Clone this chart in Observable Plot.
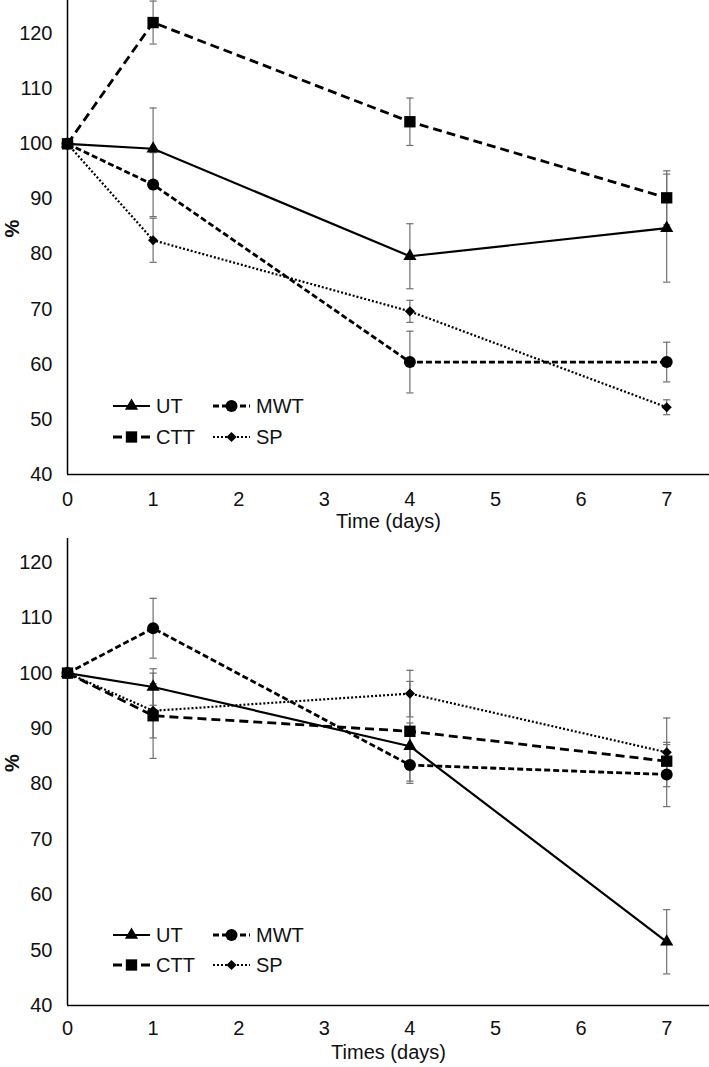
<!DOCTYPE html>
<html><head><meta charset="utf-8">
<script src="https://cdn.jsdelivr.net/npm/d3@7"></script>
<script src="https://cdn.jsdelivr.net/npm/@observablehq/plot@0.6"></script>
<style>
body{margin:0;background:#fff;}
#wrap{position:relative;width:709px;height:1067px;font-family:"Liberation Sans",Arial,sans-serif;color:#111;}
.panel{position:absolute;left:0;width:709px;}
.leg{position:absolute;display:flex;align-items:center;font-size:20px;line-height:24px;height:24px;}
.leg svg{display:block;}
</style></head><body><div id="wrap"></div>
<script>
// ---- data ----
const days = [0, 1, 4, 7];
const seriesNames = ["UT", "CTT", "MWT", "SP"];
const xTicks = [0, 1, 2, 3, 4, 5, 6, 7];
const yTicks = [40, 50, 60, 70, 80, 90, 100, 110, 120];
const xTitleTop = "Time (days)";
const xTitleBottom = "Times (days)";
const yTitle = "%";

// top panel: means and error (±)
const top_UT  = [100, 99.1, 79.6, 84.7];
const top_UT_err  = [0, 7.4, 5.9, 9.8];
const top_CTT = [100, 122.0, 104.0, 90.2];
const top_CTT_err = [0, 3.9, 4.3, 4.9];
const top_MWT = [100, 92.6, 60.4, 60.4];
const top_MWT_err = [0, 5.8, 5.6, 3.6];
const top_SP  = [100, 82.5, 69.6, 52.2];
const top_SP_err  = [0, 4.0, 2.0, 1.35];

// bottom panel
const bot_UT  = [100, 97.5, 86.8, 51.5];
const bot_UT_err  = [0, 3.3, 4.2, 5.8];
const bot_CTT = [100, 92.3, 89.5, 84.1];
const bot_CTT_err = [0, 7.7, 9.0, 3.0];
const bot_MWT = [100, 108.1, 83.4, 81.7];
const bot_MWT_err = [0, 5.4, 3.3, 5.8];
const bot_SP  = [100, 93.2, 96.3, 85.7];
const bot_SP_err  = [0, 4.9, 4.2, 6.2];

// ---- styles ----
const styles = {
  UT:  {dash: null,    width: 2.2, symbol: "triangle", r: 4.9},
  CTT: {dash: "9,5",   width: 2.8, symbol: "square",   r: 6.4},
  MWT: {dash: "6,3",   width: 2.8, symbol: "circle",   r: 6},
  SP:  {dash: "2,2",   width: 2.2, symbol: "diamond2", r: 4.6}
};
const capSymbol = {draw(ctx, size) { const r = Math.sqrt(size / Math.PI); ctx.moveTo(-r, 0); ctx.lineTo(r, 0); }};
const FONT = '"Liberation Sans", Arial, sans-serif';

function buildRows(vals) {
  const rows = [];
  seriesNames.forEach(s => {
    vals[s].v.forEach((v, i) => rows.push({series: s, day: days[i], v, e: vals[s].e[i]}));
  });
  return rows;
}

function makePlot(rows, opts) {
  const marks = [];
  const errRows = rows.filter(d => d.e > 0);
  marks.push(Plot.ruleX(errRows, {x: "day", y1: d => d.v - d.e, y2: d => d.v + d.e, stroke: "#707070", strokeWidth: 1.2}));
  marks.push(Plot.dot(errRows, {x: "day", y: d => d.v + d.e, symbol: capSymbol, r: 3.6, stroke: "#707070", strokeWidth: 1.2, fill: "none"}));
  marks.push(Plot.dot(errRows, {x: "day", y: d => d.v - d.e, symbol: capSymbol, r: 3.6, stroke: "#707070", strokeWidth: 1.2, fill: "none"}));
  marks.push(Plot.ruleX([0], {stroke: "#000", strokeWidth: 1.5}));
  marks.push(Plot.ruleY([40], {stroke: "#000", strokeWidth: 1.5}));
  seriesNames.forEach(s => {
    const st = styles[s];
    const d = rows.filter(r => r.series === s);
    marks.push(Plot.line(d, {x: "day", y: "v", stroke: "#000", strokeWidth: st.width,
      strokeDasharray: st.dash || undefined, strokeLinecap: "butt", strokeLinejoin: "miter"}));
  });
  seriesNames.forEach(s => {
    const st = styles[s];
    const d = rows.filter(r => r.series === s);
    marks.push(Plot.dot(d, {x: "day", y: "v", symbol: st.symbol, r: st.r, fill: "#000", stroke: "none"}));
  });
  marks.push(Plot.axisX({ticks: xTicks, tickSize: 0, tickPadding: opts.xPad, label: null, fontSize: 20, fill: "#111"}));
  marks.push(Plot.axisY({ticks: yTicks, tickSize: 0, tickPadding: 15, label: null, fontSize: 20, fill: "#111"}));
  marks.push(Plot.text([opts.xTitle], {frameAnchor: "bottom", dy: opts.titleDy, fontSize: 20, fill: "#111", text: d => d}));
  marks.push(Plot.text([yTitle], {frameAnchor: "left", dx: -55, rotate: -90, fontSize: 20, fontWeight: "bold", fill: "#111", text: d => d}));
  return Plot.plot({
    width: 709, height: opts.height,
    marginLeft: 67, marginRight: 0, marginTop: 0, marginBottom: opts.mb,
    x: {domain: [0, 7.5]},
    y: {domain: [40, opts.ymax]},
    style: {fontFamily: FONT, fontSize: "20px", background: "#fff", overflow: "visible"},
    marks
  });
}

function swatch(name) {
  const st = styles[name];
  const svg = d3.create("svg").attr("width", 43).attr("height", 24);
  svg.append("line").attr("x1", 0).attr("x2", 37).attr("y1", 12).attr("y2", 12)
    .attr("stroke", "#000").attr("stroke-width", st.width)
    .attr("stroke-dasharray", st.dash || null);
  const typeMap = {triangle: d3.symbolTriangle, square: d3.symbolSquare, circle: d3.symbolCircle, diamond2: d3.symbolDiamond2};
  svg.append("path").attr("d", d3.symbol(typeMap[st.symbol], st.r * st.r * Math.PI)())
    .attr("transform", "translate(18.5,12)").attr("fill", "#000");
  return svg.node();
}

function addLegend(container, row1y, row2y) {
  const layout = [[seriesNames[0], 113, row1y], [seriesNames[2], 213, row1y], [seriesNames[1], 113, row2y], [seriesNames[3], 213, row2y]];
  layout.forEach(([name, left, cy]) => {
    const div = document.createElement("div");
    div.className = "leg";
    div.style.left = left + "px";
    div.style.top = (cy - 12) + "px";
    div.appendChild(swatch(name));
    const span = document.createElement("span");
    span.textContent = name;
    div.appendChild(span);
    container.appendChild(div);
  });
}

const wrap = document.getElementById("wrap");

const topVals = {UT: {v: top_UT, e: top_UT_err}, CTT: {v: top_CTT, e: top_CTT_err}, MWT: {v: top_MWT, e: top_MWT_err}, SP: {v: top_SP, e: top_SP_err}};
const botVals = {UT: {v: bot_UT, e: bot_UT_err}, CTT: {v: bot_CTT, e: bot_CTT_err}, MWT: {v: bot_MWT, e: bot_MWT_err}, SP: {v: bot_SP, e: bot_SP_err}};

const p1 = document.createElement("div"); p1.className = "panel"; p1.style.top = "0px"; p1.style.height = "538px";
p1.appendChild(makePlot(buildRows(topVals), {height: 538, mb: 64, ymax: 126.0, xPad: 17, xTitle: xTitleTop, titleDy: 53}));
addLegend(p1, 406, 437);
wrap.appendChild(p1);

const p2 = document.createElement("div"); p2.className = "panel"; p2.style.top = "538px"; p2.style.height = "529px";
p2.appendChild(makePlot(buildRows(botVals), {height: 529, mb: 62, ymax: 124.3, xPad: 15, xTitle: xTitleBottom, titleDy: 53}));
addLegend(p2, 397, 427);
wrap.appendChild(p2);
</script>
</body></html>
